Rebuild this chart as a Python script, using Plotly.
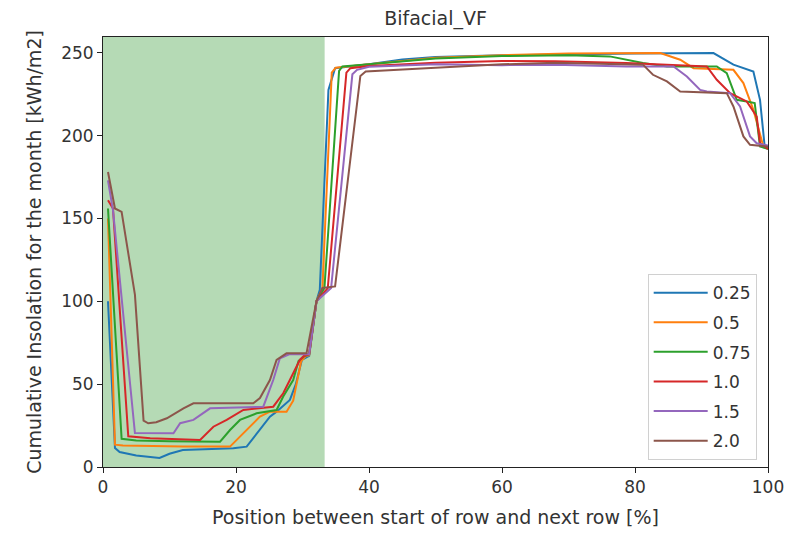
import plotly.graph_objects as go

# ---- data ----
series_names = ["0.25", "0.5", "0.75", "1.0", "1.5", "2.0"]
colors = ["#1f77b4", "#ff7f0e", "#2ca02c", "#d62728", "#9467bd", "#8c564b"]

x_025 = [0.75, 1.8, 2.5, 5, 8.5, 10, 12, 19.6, 21.6, 23.6, 25.1, 26.1, 28.1, 29.0, 29.9, 31, 32.1, 32.6, 33.9, 34.9,
         40, 45, 50, 60, 68, 80, 91.8, 94.8, 97.8, 98.8, 99.5, 100]
y_025 = [100, 11.5, 9, 7, 5.5, 8, 10.3, 11.3, 12.3, 22.3, 30.4, 33.4, 40.5, 50, 64.6, 67, 100, 107, 227.6, 240.7,
         243, 246, 247.5, 248.5, 249, 249.5, 249.8, 242.8, 238.7, 221.6, 193.4, 192]

x_05 = [0.75, 1.8, 3, 7, 12, 19.1, 20.6, 22.1, 23.6, 25.1, 27.6, 28.6, 29.3, 29.8, 30.5, 31, 32.1, 33.0, 34.4, 35,
        40, 50, 60, 70, 83.8, 86.8, 88.8, 94.8, 96.3, 97.8, 99.3, 100]
y_05 = [150, 13.5, 13, 12.5, 12.3, 12.3, 18.3, 24.3, 30.4, 33.4, 33.4, 40, 55, 64, 67, 67.5, 100, 108, 238, 241,
        243, 247, 248.5, 249.5, 249.8, 245.8, 240.7, 239.7, 231.7, 215.6, 193.4, 192]

x_075 = [0.75, 2.8, 5, 10, 17.6, 19.1, 20.6, 23.1, 26.1, 27.1, 28.6, 29.4, 30.3, 31, 32.1, 33.3, 35.5, 36,
         40, 50, 60, 70, 76.2, 81.2, 84.8, 92.3, 93.8, 95.3, 96.8, 98, 98.8, 100]
y_075 = [156, 17, 16, 15.5, 15.3, 22.3, 28.4, 32.4, 34.4, 42.5, 52.5, 64, 67, 68, 100, 108, 239, 241.7,
         243, 246.5, 248, 248.5, 247.8, 243.8, 241.7, 241.7, 237.7, 221.6, 220.6, 219.6, 193.4, 192]

x_10 = [0.75, 1.5, 3.8, 7.1, 14.6, 16.6, 18.6, 21.1, 25.6, 27.1, 28.1, 29.6, 30.2, 31, 32.1, 33.8, 36.6, 37.2,
        40, 50, 60, 68, 78.7, 83.8, 90.8, 92.3, 94.3, 96.8, 98.3, 98.8, 100]
y_10 = [161, 156, 18.5, 17.3, 16.3, 24.3, 28.4, 34.4, 36.4, 44.5, 52.5, 64.6, 67, 68, 100, 108, 238, 240.7,
        242, 244, 245, 244.8, 243.8, 242.8, 241.7, 233.7, 225.6, 220.6, 211.5, 195.4, 192]

x_15 = [0.75, 1.5, 4.8, 7.1, 10.6, 11.6, 13.6, 16.1, 24.1, 25.6, 26.6, 28, 31, 32.1, 34.3, 37.5, 38.2,
        40, 50, 60, 68, 78.7, 85.8, 87.8, 89.8, 90.8, 94.3, 95.8, 97.3, 98.3, 99.8, 100]
y_15 = [173, 155, 20.5, 20.3, 20.3, 26.4, 28.4, 35.4, 36.4, 52.5, 65.6, 68, 68, 100, 108, 237, 239.7,
        241.5, 243, 242.5, 242.8, 241.7, 241.7, 235.7, 227.6, 226.6, 225.6, 217.6, 199.5, 195.4, 194.4, 194]

x_20 = [0.75, 1.8, 2.8, 4.8, 6.1, 6.8, 8, 9.6, 12.1, 13.6, 22.6, 23.6, 25.1, 26.1, 27.6, 30.6, 32.1, 33, 34.9, 38.7, 39.5,
        45, 50, 60, 68, 81.2, 82.7, 84.8, 86.8, 93.8, 94.8, 96.3, 97.3, 99.8, 100]
y_20 = [178, 156, 154, 104, 28, 26.4, 27, 29.4, 35.4, 38.4, 38.4, 41.6, 52.5, 64.6, 68.6, 68.6, 100, 108, 109, 236, 238.7,
        240, 241, 243, 244, 242.8, 236.7, 232.7, 226.6, 225.6, 217.6, 199.5, 194.4, 193.4, 193]

xs = [x_025, x_05, x_075, x_10, x_15, x_20]
ys = [y_025, y_05, y_075, y_10, y_15, y_20]

shade_start = 0
shade_end = 33.33

x_ticks = [0, 20, 40, 60, 80, 100]
y_ticks = [0, 50, 100, 150, 200, 250]

FONT = "DejaVu Sans"

fig = go.Figure()
for name, c, x, y in zip(series_names, colors, xs, ys):
    fig.add_trace(go.Scatter(x=x, y=y, mode="lines", name=name, legendgroup=name,
                             line=dict(color=c, width=2)))

fig.add_vrect(x0=shade_start, x1=shade_end, fillcolor="rgba(0,128,0,0.29)", line_width=0, layer="below")

axis_common = dict(showline=True, linecolor="#222", linewidth=1, mirror=True, ticks="outside",
                   ticklen=5, tickcolor="#222", showgrid=False, zeroline=False, automargin=False,
                   tickfont=dict(family=FONT, size=17, color="#333"),
                   title_font=dict(family=FONT, size=19, color="#333"))

fig.update_layout(
    width=792, height=538,
    margin=dict(l=103, r=24, t=37, b=71),
    plot_bgcolor="white", paper_bgcolor="white",
    title=dict(text="Bifacial_VF", x=0.5, xref="paper", xanchor="center",
               y=1 - 18 / 538, yref="container", yanchor="middle",
               font=dict(family=FONT, size=19, color="#333")),
    xaxis=dict(range=[0, 100], tickvals=x_ticks,
               title=dict(text="Position between start of row and next row [%]", standoff=14), **axis_common),
    yaxis=dict(range=[0, 259.5], tickvals=y_ticks,
               title=dict(text="Cumulative Insolation for the month [kWh/m2]", standoff=14), **axis_common),
    legend=dict(x=0.983, y=0.016, xanchor="right", yanchor="bottom",
                bgcolor="white", bordercolor="#d0d0d0", borderwidth=1,
                font=dict(family=FONT, size=17, color="#333"),
                itemwidth=54, tracegroupgap=4.5),
    showlegend=True,
)

fig.write_html("out.html")
